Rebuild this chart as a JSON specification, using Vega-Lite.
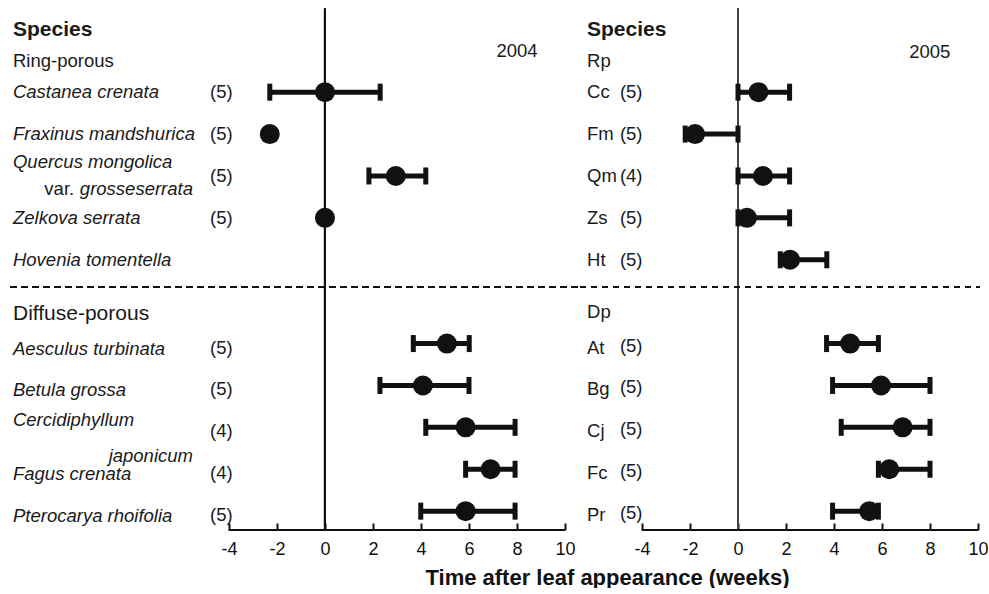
{
  "$schema": "https://vega.github.io/schema/vega-lite/v6.json",
  "padding": 0,
  "bounds": "flush",
  "spacing": 0,
  "background": "white",
  "config": {
    "view": {"stroke": null},
    "font": "Liberation Sans",
    "text": {"font": "Liberation Sans", "fontSize": 18.5, "baseline": "middle", "align": "left", "color": "#1a1a1a"}
  },
  "datasets": {
    "d": [
      {"name1": "Castanea crenata", "abbr": "Cc", "g": "R", "row": 1, "c04": "(5)", "m04": 0, "lo04": -2.3, "hi04": 2.3, "c05": "(5)", "m05": 0.85, "lo05": 0, "hi05": 2.15},
      {"name1": "Fraxinus mandshurica", "abbr": "Fm", "g": "R", "row": 2, "c04": "(5)", "m04": -2.3, "lo04": null, "hi04": null, "c05": "(5)", "m05": -1.79, "lo05": -2.2, "hi05": 0},
      {"name1": "Quercus mongolica", "name2": "grosseserrata", "pre2": "var.", "abbr": "Qm", "g": "R", "row": 3, "c04": "(5)", "m04": 2.95, "lo04": 1.83, "hi04": 4.2, "c05": "(4)", "m05": 1.04, "lo05": 0, "hi05": 2.15},
      {"name1": "Zelkova serrata", "abbr": "Zs", "g": "R", "row": 4, "c04": "(5)", "m04": 0, "lo04": null, "hi04": null, "c05": "(5)", "m05": 0.37, "lo05": 0, "hi05": 2.15},
      {"name1": "Hovenia tomentella", "abbr": "Ht", "g": "R", "row": 5, "c04": null, "m04": null, "lo04": null, "hi04": null, "c05": "(5)", "m05": 2.17, "lo05": 1.76, "hi05": 3.7},
      {"name1": "Aesculus turbinata", "abbr": "At", "g": "D", "row": 7, "c04": "(5)", "m04": 5.08, "lo04": 3.68, "hi04": 6.01, "c05": "(5)", "m05": 4.67, "lo05": 3.69, "hi05": 5.85},
      {"name1": "Betula grossa", "abbr": "Bg", "g": "D", "row": 8, "c04": "(5)", "m04": 4.08, "lo04": 2.29, "hi04": 6.0, "c05": "(5)", "m05": 5.96, "lo05": 3.94, "hi05": 8.0},
      {"name1": "Cercidiphyllum", "name2": "japonicum", "abbr": "Cj", "g": "D", "row": 9, "c04": "(4)", "m04": 5.86, "lo04": 4.2, "hi04": 7.92, "c05": "(5)", "m05": 6.86, "lo05": 4.3, "hi05": 8.0},
      {"name1": "Fagus crenata", "abbr": "Fc", "g": "D", "row": 10, "c04": "(4)", "m04": 6.9, "lo04": 5.86, "hi04": 7.92, "c05": "(5)", "m05": 6.3, "lo05": 5.85, "hi05": 8.0},
      {"name1": "Pterocarya rhoifolia", "abbr": "Pr", "g": "D", "row": 11, "c04": "(5)", "m04": 5.86, "lo04": 3.99, "hi04": 7.92, "c05": "(5)", "m05": 5.47, "lo05": 3.94, "hi05": 5.85}
    ]
  },
  "hconcat": [
    {
      "width": 580,
      "height": 530,
      "data": {"name": "d"},
      "layer": [
        {
          "mark": {"type": "rule", "color": "#111", "strokeWidth": 2},
          "encoding": {
            "x": {"datum": 0, "type": "quantitative", "scale": {"domain": [-13.54, 10.625], "nice": false, "zero": false},
              "axis": {"values": [-4, -2, 0, 2, 4, 6, 8, 10], "labelExpr": "'' + datum.value", "domain": false, "grid": false, "ticks": true, "tickSize": -7, "tickWidth": 2, "tickColor": "#111", "labelFontSize": 18, "labelColor": "#111", "labelPadding": 17, "labelFont": "Liberation Sans", "labelFlush": false, "labelOverlap": false, "title": null}},
            "y": {"datum": -1.0, "type": "quantitative", "scale": {"domain": [-1.2, 11.45], "nice": false, "zero": false, "reverse": true}, "axis": null},
            "y2": {"datum": 11.45}
          }
        },
        {
          "mark": {"type": "rule", "color": "#111", "strokeWidth": 1.3, "strokeDash": [6, 5]},
          "encoding": {"x": {"datum": -13.1}, "x2": {"datum": 10.625}, "y": {"datum": 5.65, "axis": null}}
        },
        {
          "mark": {"type": "rule", "color": "#111", "strokeWidth": 2},
          "encoding": {"x": {"datum": -4}, "x2": {"datum": 10}, "y": {"datum": 11.45, "axis": null}}
        },
        {
          "mark": {"type": "rule", "color": "#111", "strokeWidth": 5},
          "encoding": {"x": {"field": "lo04", "type": "quantitative"}, "x2": {"field": "hi04"}, "y": {"field": "row", "type": "quantitative", "axis": null}}
        },
        {
          "mark": {"type": "tick", "orient": "vertical", "size": 17, "thickness": 5, "color": "#111", "opacity": 1},
          "encoding": {"x": {"field": "lo04", "type": "quantitative"}, "y": {"field": "row", "type": "quantitative", "axis": null}}
        },
        {
          "mark": {"type": "tick", "orient": "vertical", "size": 17, "thickness": 5, "color": "#111", "opacity": 1},
          "encoding": {"x": {"field": "hi04", "type": "quantitative"}, "y": {"field": "row", "type": "quantitative", "axis": null}}
        },
        {
          "mark": {"type": "point", "filled": true, "shape": "circle", "size": 400, "color": "#111", "opacity": 1},
          "encoding": {"x": {"field": "m04", "type": "quantitative"}, "y": {"field": "row", "type": "quantitative", "axis": null}}
        },
        {
          "transform": [{"filter": "!datum.name2 && datum.g == 'R'"}],
          "mark": {"type": "text", "fontStyle": "italic"},
          "encoding": {"x": {"datum": -13.0}, "y": {"field": "row", "type": "quantitative", "axis": null}, "text": {"field": "name1"}}
        },
        {
          "transform": [{"filter": "!datum.name2 && datum.g == 'D'"}],
          "mark": {"type": "text", "fontStyle": "italic", "dy": 5},
          "encoding": {"x": {"datum": -13.0}, "y": {"field": "row", "type": "quantitative", "axis": null}, "text": {"field": "name1"}}
        },
        {
          "transform": [{"filter": "datum.name2 && datum.g == 'R'"}],
          "mark": {"type": "text", "fontStyle": "italic", "dy": -14},
          "encoding": {"x": {"datum": -13.0}, "y": {"field": "row", "type": "quantitative", "axis": null}, "text": {"field": "name1"}}
        },
        {
          "transform": [{"filter": "datum.name2 && datum.g == 'R'"}],
          "mark": {"type": "text", "fontStyle": "italic", "dy": 13, "align": "right"},
          "encoding": {"x": {"datum": -5.5}, "y": {"field": "row", "type": "quantitative", "axis": null}, "text": {"field": "name2"}}
        },
        {
          "transform": [{"filter": "datum.pre2"}],
          "mark": {"type": "text", "dy": 13, "align": "right"},
          "encoding": {"x": {"datum": -10.45}, "y": {"field": "row", "type": "quantitative", "axis": null}, "text": {"field": "pre2"}}
        },
        {
          "transform": [{"filter": "datum.name2 && datum.g == 'D'"}],
          "mark": {"type": "text", "fontStyle": "italic", "dy": -7},
          "encoding": {"x": {"datum": -13.0}, "y": {"field": "row", "type": "quantitative", "axis": null}, "text": {"field": "name1"}}
        },
        {
          "transform": [{"filter": "datum.name2 && datum.g == 'D'"}],
          "mark": {"type": "text", "fontStyle": "italic", "dy": 29, "align": "right"},
          "encoding": {"x": {"datum": -5.5}, "y": {"field": "row", "type": "quantitative", "axis": null}, "text": {"field": "name2"}}
        },
        {
          "transform": [{"filter": "datum.c04 && datum.g == 'R'"}],
          "mark": {"type": "text"},
          "encoding": {"x": {"datum": -4.79}, "y": {"field": "row", "type": "quantitative", "axis": null}, "text": {"field": "c04"}}
        },
        {
          "transform": [{"filter": "datum.c04 && datum.g == 'D'"}],
          "mark": {"type": "text", "dy": 4},
          "encoding": {"x": {"datum": -4.79}, "y": {"field": "row", "type": "quantitative", "axis": null}, "text": {"field": "c04"}}
        },
        {
          "data": {"values": [{}]},
          "mark": {"type": "text", "text": "Species", "fontWeight": "bold", "fontSize": 21},
          "encoding": {"x": {"datum": -13.0}, "y": {"datum": -0.48, "axis": null}}
        },
        {
          "data": {"values": [{}]},
          "mark": {"type": "text", "text": "Ring-porous"},
          "encoding": {"x": {"datum": -13.0}, "y": {"datum": 0.26, "axis": null}}
        },
        {
          "data": {"values": [{}]},
          "mark": {"type": "text", "text": "Diffuse-porous", "fontSize": 21},
          "encoding": {"x": {"datum": -13.0}, "y": {"datum": 6.29, "axis": null}}
        },
        {
          "data": {"values": [{}]},
          "mark": {"type": "text", "text": "2004", "align": "center"},
          "encoding": {"x": {"datum": 8.0}, "y": {"datum": 0.02, "axis": null}}
        }
      ]
    },
    {
      "width": 409,
      "height": 530,
      "data": {"name": "d"},
      "layer": [
        {
          "mark": {"type": "rule", "color": "#444", "strokeWidth": 1.2},
          "encoding": {
            "x": {"datum": 0, "type": "quantitative", "scale": {"domain": [-6.583, 10.458], "nice": false, "zero": false},
              "axis": {"values": [-4, -2, 0, 2, 4, 6, 8, 10], "labelExpr": "'' + datum.value", "domain": false, "grid": false, "ticks": true, "tickSize": -7, "tickWidth": 2, "tickColor": "#111", "labelFontSize": 18, "labelColor": "#111", "labelPadding": 17, "labelFont": "Liberation Sans", "labelFlush": false, "labelOverlap": false,
                "title": "Time after leaf appearance (weeks)", "titleFont": "Liberation Sans", "titleFontSize": 22, "titleFontWeight": "bold", "titleColor": "#111", "titleX": 27, "titleY": 47, "titleAlign": "center", "titleBaseline": "middle"}},
            "y": {"datum": -1.0, "type": "quantitative", "scale": {"domain": [-1.2, 11.45], "nice": false, "zero": false, "reverse": true}, "axis": null},
            "y2": {"datum": 11.45}
          }
        },
        {
          "mark": {"type": "rule", "color": "#111", "strokeWidth": 1.3, "strokeDash": [6, 5]},
          "encoding": {"x": {"datum": -6.583}, "x2": {"datum": 10.08}, "y": {"datum": 5.65, "axis": null}}
        },
        {
          "mark": {"type": "rule", "color": "#111", "strokeWidth": 2},
          "encoding": {"x": {"datum": -4}, "x2": {"datum": 10}, "y": {"datum": 11.45, "axis": null}}
        },
        {
          "mark": {"type": "rule", "color": "#111", "strokeWidth": 5},
          "encoding": {"x": {"field": "lo05", "type": "quantitative"}, "x2": {"field": "hi05"}, "y": {"field": "row", "type": "quantitative", "axis": null}}
        },
        {
          "mark": {"type": "tick", "orient": "vertical", "size": 17, "thickness": 5, "color": "#111", "opacity": 1},
          "encoding": {"x": {"field": "lo05", "type": "quantitative"}, "y": {"field": "row", "type": "quantitative", "axis": null}}
        },
        {
          "mark": {"type": "tick", "orient": "vertical", "size": 17, "thickness": 5, "color": "#111", "opacity": 1},
          "encoding": {"x": {"field": "hi05", "type": "quantitative"}, "y": {"field": "row", "type": "quantitative", "axis": null}}
        },
        {
          "mark": {"type": "point", "filled": true, "shape": "circle", "size": 400, "color": "#111", "opacity": 1},
          "encoding": {"x": {"field": "m05", "type": "quantitative"}, "y": {"field": "row", "type": "quantitative", "axis": null}}
        },
        {
          "transform": [{"filter": "datum.g == 'R'"}],
          "mark": {"type": "text"},
          "encoding": {"x": {"datum": -6.29}, "y": {"field": "row", "type": "quantitative", "axis": null}, "text": {"field": "abbr"}}
        },
        {
          "transform": [{"filter": "datum.g == 'D'"}],
          "mark": {"type": "text", "dy": 4},
          "encoding": {"x": {"datum": -6.29}, "y": {"field": "row", "type": "quantitative", "axis": null}, "text": {"field": "abbr"}}
        },
        {
          "transform": [{"filter": "datum.g == 'R'"}],
          "mark": {"type": "text"},
          "encoding": {"x": {"datum": -4.92}, "y": {"field": "row", "type": "quantitative", "axis": null}, "text": {"field": "c05"}}
        },
        {
          "transform": [{"filter": "datum.g == 'D'"}],
          "mark": {"type": "text", "dy": 2},
          "encoding": {"x": {"datum": -4.92}, "y": {"field": "row", "type": "quantitative", "axis": null}, "text": {"field": "c05"}}
        },
        {
          "data": {"values": [{}]},
          "mark": {"type": "text", "text": "Species", "fontWeight": "bold", "fontSize": 21},
          "encoding": {"x": {"datum": -6.29}, "y": {"datum": -0.48, "axis": null}}
        },
        {
          "data": {"values": [{}]},
          "mark": {"type": "text", "text": "Rp"},
          "encoding": {"x": {"datum": -6.29}, "y": {"datum": 0.26, "axis": null}}
        },
        {
          "data": {"values": [{}]},
          "mark": {"type": "text", "text": "Dp"},
          "encoding": {"x": {"datum": -6.29}, "y": {"datum": 6.25, "axis": null}}
        },
        {
          "data": {"values": [{}]},
          "mark": {"type": "text", "text": "2005", "align": "center"},
          "encoding": {"x": {"datum": 7.99}, "y": {"datum": 0.05, "axis": null}}
        }
      ]
    }
  ]
}
